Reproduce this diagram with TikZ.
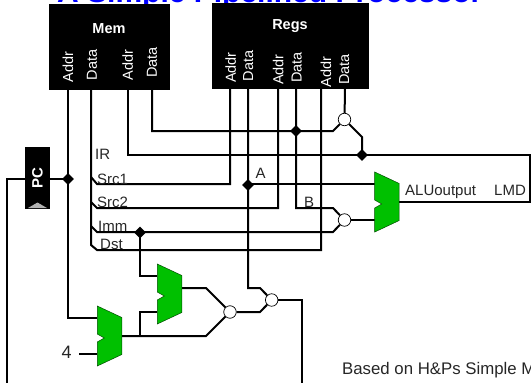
\documentclass[tikz,border=0pt]{standalone}
\usepackage{fontspec}
\setmainfont{Liberation Sans}
\usetikzlibrary{shapes.geometric}
\definecolor{muxgreen}{RGB}{0,192,0}
\definecolor{titleblue}{RGB}{0,0,255}
\tikzset{
  wire/.style={line width=2pt,line join=miter},
  blackbox/.style={fill=black,draw=none},
  port/.style={rotate=90,text=white,font=\fontsize{14.5}{14}\selectfont,inner sep=0pt},
  boxtitle/.style={text=white,font=\fontsize{14.5}{14}\selectfont\bfseries,inner sep=0pt},
  lab/.style={anchor=base west,inner sep=0pt,font=\fontsize{15}{14}\selectfont,text=black!85},
  junction/.style={diamond,fill=black,draw=none,minimum size=12pt,inner sep=0pt},
  gate/.style={circle,fill=white,draw=black,line width=0.7pt,minimum size=12.5pt,inner sep=0pt},
  muxshape/.pic={\path[fill=muxgreen,draw=black!70!green,line width=0.5pt]
    (0,0)--(24.5,11.5)--(24.5,48.5)--(0,60)--(0,36)--(7,32)--(0,28)--cycle;}
}
\begin{document}
\begin{tikzpicture}[x=1pt,y=-1pt]
\useasboundingbox (0,0) rectangle (531,383);
\node[anchor=base west,inner sep=0pt,text=titleblue,font=\fontsize{30}{30}\selectfont\bfseries] (title) at (57,2) {A Simple Pipelined Processor};
% boxes
\path[blackbox] (49,4) rectangle (170,90);
\path[blackbox] (212,3) rectangle (369,89);
\path[blackbox] (25,147) rectangle (50,208.5);
\path[fill=black!30] (37.5,202.5)--(47,208)--(28,208)--cycle;
\node[boxtitle] (memt) at (109,29) {Mem};
\node[boxtitle] (regt) at (290,26) {Regs};
\node[boxtitle,rotate=90,font=\fontsize{15}{14}\selectfont\bfseries] (pct) at (37.5,178) {PC};
\node[port] (p1) at (68,67) {Addr};
\node[port] (p2) at (92,65) {Data};
\node[port] (p3) at (127.7,65) {Addr};
\node[port] (p4) at (152,62.5) {Data};
\node[port] (p5) at (230.7,67.5) {Addr};
\node[port] (p6) at (248.3,66) {Data};
\node[port] (p7) at (278.3,69.5) {Addr};
\node[port] (p8) at (296.7,67.5) {Data};
\node[port] (p9) at (326,72) {Addr};
\node[port] (p10) at (344.3,69.5) {Data};
% junctions and gates
\node[junction] (jpc) at (68,179) {};
\node[junction] (ja) at (248,185) {};
\node[junction] (jimm) at (140,232.5) {};
\node[junction] (jd) at (296,131) {};
\node[junction] (jir) at (362,155) {};
\node[gate] (gtop) at (344.5,119.5) {};
\node[gate] (galu) at (344.5,220) {};
\node[gate] (glow) at (230,312) {};
\node[gate] (gpc) at (271.7,300) {};
% anchors
\coordinate (memA) at (68,90);
\coordinate (memD) at (91,90);
\coordinate (memA2) at (128,90);
\coordinate (memD2) at (152,90);
\coordinate (r1) at (230,89);
\coordinate (r2) at (248,89);
\coordinate (r3) at (278,89);
\coordinate (r4) at (296,89);
\coordinate (r5) at (321,89);
\coordinate (r6) at (345,89);
\coordinate (pcL) at (25,179);
\coordinate (pcR) at (50,179);
\coordinate (m1) at (97.3,306);
\coordinate (m2) at (157.3,264);
\coordinate (m3) at (374.7,172);
\coordinate (four) at (79,354);
\coordinate (cornerNE) at (530,155);
\coordinate (cornerSE) at (530,202);
\coordinate (busEnd) at (91,245);
\coordinate (outL) at (7,383);
\coordinate (outR) at (302,383);
% wires
\draw[wire] (pcL) -- (7,179) -- (outL);
\draw[wire] (pcR) -- (jpc.center);
\draw[wire] (memA) -- (68,318) -- (97.3,318);
\draw[wire] (memD) -- (busEnd) -- (97,250) -- (321,250) -- (r5);
\draw[wire] (91,177) -- (97,184) -- (230,184) -- (r1);
\draw[wire] (91,202) -- (97,208) -- (278,208) -- (r3);
\draw[wire] (91,226) -- (97,232) -- (333,232) -- (galu);
\draw[wire] (r4) -- (296,208) -- (333,208) -- (galu);
\draw[wire] (galu) -- (374.7,220);
\draw[wire] (jimm.center) -- (140,276) -- (157.3,276);
\draw[wire] (memA2) -- (128,155) -- (cornerNE) -- (cornerSE) -- (399,202);
\draw[wire] (memD2) -- (152,131) -- (333,131) -- (gtop);
\draw[wire] (r6) -- (gtop);
\draw[wire] (gtop) -- (362,137) -- (jir.center);
\draw[wire] (r2) -- (248,288) -- (260,288) -- (gpc);
\draw[wire] (ja.center) -- (248,184) -- (374.7,184);
\draw[wire] (182,288) -- (206,288) -- (glow);
\draw[wire] (122,336) -- (206,336) -- (glow);
\draw[wire] (140,336) -- (140,312) -- (157.3,312);
\draw[wire] (glow) -- (260,312) -- (gpc);
\draw[wire] (gpc) -- (302,300) -- (outR);
\draw[wire] (four) -- (97.3,354);
% muxes
\pic at (m1) {muxshape};
\pic at (m2) {muxshape};
\pic at (m3) {muxshape};
% labels
\node[lab] (lir) at (95,159) {IR};
\node[lab] (ls1) at (97,184) {Src1};
\node[lab] (ls2) at (97,207) {Src2};
\node[lab] (lim) at (98,231.5) {Imm};
\node[lab] (ldst) at (100,249) {Dst};
\node[lab] (la) at (255.5,178) {A};
\node[lab] (lb) at (304,207) {B};
\node[lab] (lalu) at (405,195) {ALUoutput};
\node[lab] (llmd) at (494,195) {LMD};
\node[lab,font=\fontsize{16.8}{16}\selectfont] (lnote) at (342,374) {Based on H\&Ps Simple M};
\node[lab,font=\fontsize{18}{18}\selectfont] (l4) at (61.5,358.5) {4};
\end{tikzpicture}
\end{document}
